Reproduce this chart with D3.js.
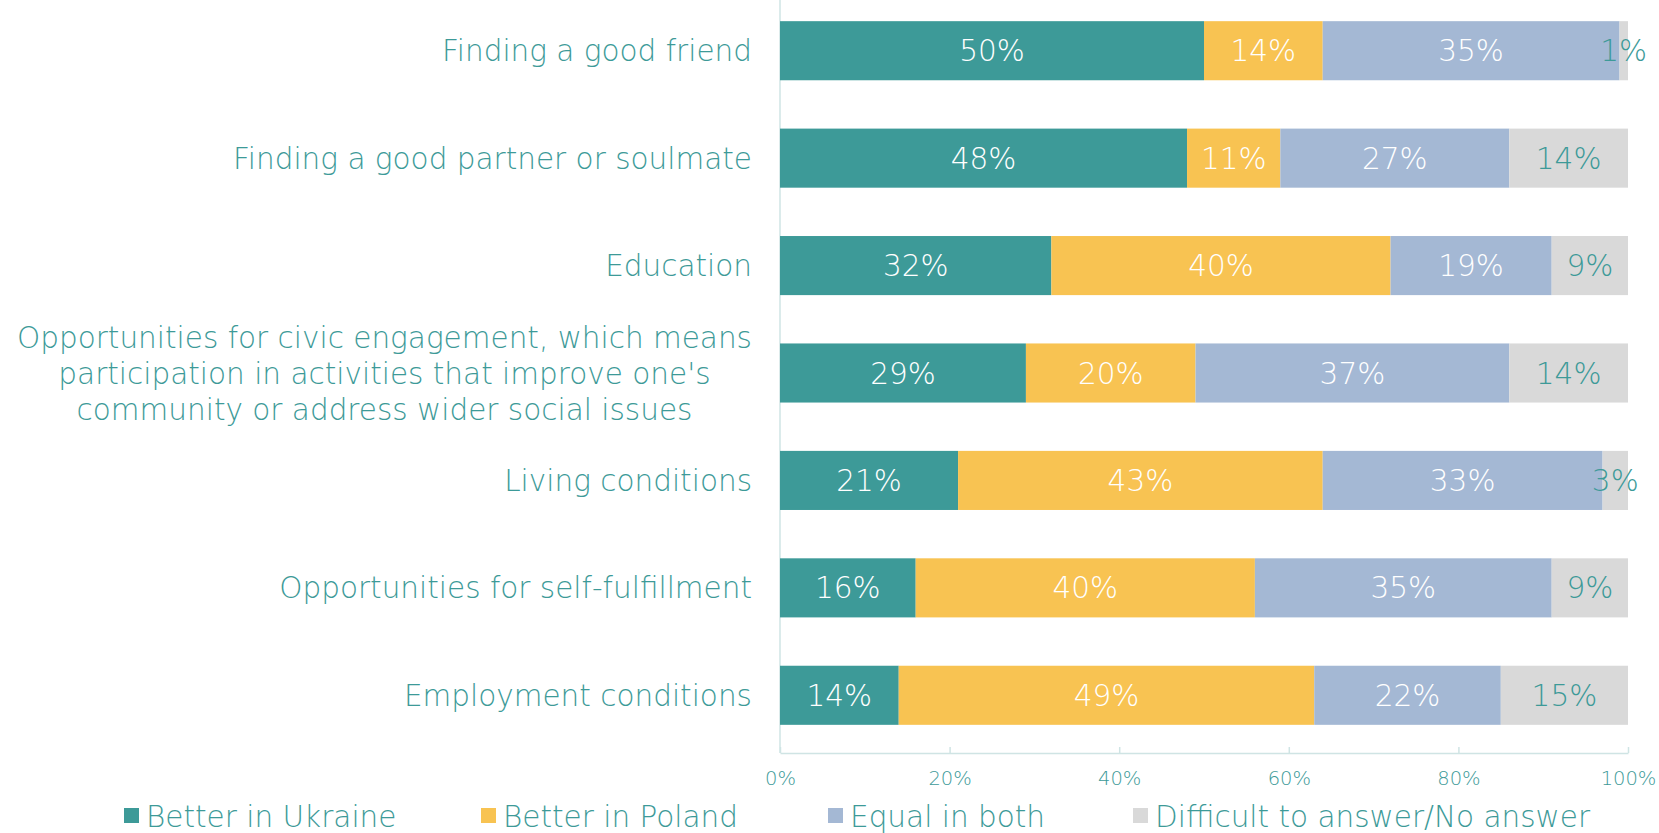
<!DOCTYPE html>
<html>
<head>
<meta charset="utf-8">
<script src="https://cdn.jsdelivr.net/npm/d3@7"></script>
<style>
  body { margin: 0; background: #fff; }
  svg text { font-family: "DejaVu Sans", "Open Sans", sans-serif; }
</style>
</head>
<body>
<div class="chart"></div>
<script>
// Data
const categories = [
    'Finding a good friend',
    'Finding a good partner or soulmate',
    'Education',
    "Opportunities for civic engagement, which means|participation in activities that improve one's|community or address wider social issues",
    'Living conditions',
    'Opportunities for self-fulfillment',
    'Employment conditions'
];
const seriesNames = ['Better in Ukraine', 'Better in Poland', 'Equal in both', 'Difficult to answer/No answer'];
const betterUkraine = [50, 48, 32, 29, 21, 16, 14];
const betterPoland  = [14, 11, 40, 20, 43, 40, 49];
const equalBoth     = [35, 27, 19, 37, 33, 35, 22];
const difficult     = [1, 14, 9, 14, 3, 9, 15];
const xTicks = [0, 20, 40, 60, 80, 100];

const colors = ['#3d9a98', '#f8c352', '#a4b8d4', '#d9d9d9'];
const teal = '#3d9a98';

const width = 1659, height = 833;
const margin = { top: 0, right: 31, bottom: 80, left: 780 };
const fontSize = 29.5;

const svg = d3.select('.chart')
    .append('svg')
    .attr('width', width)
    .attr('height', height);

const g = svg.append('g')
    .attr('transform', `translate(${margin.left},${margin.top})`);

const innerW = width - margin.left - margin.right;
const axisY = 753;

// Scales
const xScale = d3.scaleLinear().domain([0, 100]).range([0, innerW]);
const yScale = d3.scaleBand()
    .domain(categories)
    .range([-3, 749])
    .paddingInner(0.45)
    .paddingOuter(0.225);

// Stack
const table = categories.map((c, i) => ({
    cat: c,
    [seriesNames[0]]: betterUkraine[i],
    [seriesNames[1]]: betterPoland[i],
    [seriesNames[2]]: equalBoth[i],
    [seriesNames[3]]: difficult[i]
}));
const stacked = d3.stack().keys(seriesNames)(table);

// Vertical axis line
g.append('line')
    .attr('x1', 0).attr('x2', 0)
    .attr('y1', 0).attr('y2', axisY)
    .attr('stroke', '#cfe4e4')
    .attr('stroke-width', 1.5);

// Bars
const layers = g.selectAll('.layer')
    .data(stacked)
    .enter()
    .append('g')
    .attr('class', 'layer')
    .attr('fill', (d, i) => colors[i]);

layers.selectAll('rect')
    .data(d => d)
    .enter()
    .append('rect')
    .attr('x', d => xScale(d[0]))
    .attr('y', d => yScale(d.data.cat))
    .attr('width', d => xScale(d[1]) - xScale(d[0]))
    .attr('height', yScale.bandwidth());

// Value labels
layers.each(function(layer, li) {
    d3.select(this).selectAll('text')
        .data(layer)
        .enter()
        .append('text')
        .attr('x', d => xScale((d[0] + d[1]) / 2))
        .attr('y', d => yScale(d.data.cat) + yScale.bandwidth() / 2)
        .attr('dy', '0.36em')
        .attr('text-anchor', 'middle')
        .attr('font-size', fontSize)
        .attr('font-weight', 200)
        .attr('fill', li === 3 ? teal : '#fff')
        .text(d => (d[1] - d[0]) + '%');
});

// X axis
const xAxis = d3.axisTop(xScale)
    .tickValues(xTicks)
    .tickFormat(d => d + '%')
    .tickSizeInner(6)
    .tickSizeOuter(0);

const xAxisDraw = g.append('g')
    .attr('class', 'x axis')
    .attr('transform', `translate(0,${axisY})`)
    .call(xAxis);

xAxisDraw.select('.domain').attr('stroke', '#cfe4e4').attr('stroke-width', 1.5);
xAxisDraw.selectAll('.tick line').attr('stroke', '#cfe4e4').attr('stroke-width', 1.5);
xAxisDraw.selectAll('.tick text')
    .attr('y', 25)
    .attr('dy', '0.36em')
    .attr('font-size', 19.5)
    .attr('font-weight', 200)
    .attr('fill', teal);

// Category labels
const labelRight = 752 - margin.left;
const catLabels = g.append('g').attr('class', 'cat-labels');
categories.forEach(c => {
    const lines = c.split('|');
    const t = catLabels.append('text')
        .attr('font-size', fontSize)
        .attr('font-weight', 200)
        .attr('fill', teal);
    const cy = yScale(c) + yScale.bandwidth() / 2;
    const lh = 36;
    lines.forEach((l, i) => {
        t.append('tspan')
            .attr('y', cy + (i - (lines.length - 1) / 2) * lh)
            .attr('dy', '0.36em')
            .text(l);
    });
    if (lines.length === 1) {
        t.attr('text-anchor', 'end');
        t.selectAll('tspan').attr('x', labelRight);
    } else {
        let maxW = 0;
        t.selectAll('tspan').each(function() { maxW = Math.max(maxW, this.getComputedTextLength()); });
        t.attr('text-anchor', 'middle');
        t.selectAll('tspan').attr('x', labelRight - maxW / 2);
    }
});

// Legend
const legendX = [124, 481, 828, 1133];
const legend = svg.append('g').attr('class', 'legend')
    .selectAll('g')
    .data(seriesNames)
    .enter()
    .append('g')
    .attr('transform', (d, i) => `translate(${legendX[i]},816)`);

legend.append('rect')
    .attr('x', 0).attr('y', -8)
    .attr('width', 15).attr('height', 15)
    .attr('fill', (d, i) => colors[i]);

legend.append('text')
    .attr('x', 22)
    .attr('y', 0)
    .attr('dy', '0.36em')
    .attr('font-size', fontSize)
    .attr('font-weight', 200)
    .attr('fill', teal)
    .text(d => d);
</script>
</body>
</html>
